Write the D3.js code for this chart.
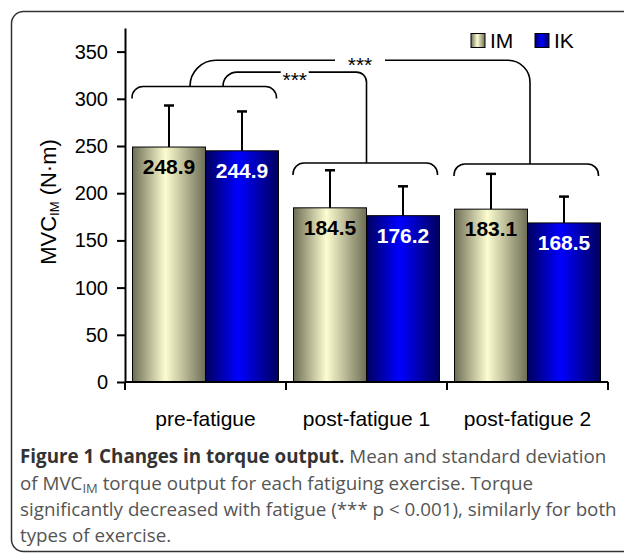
<!DOCTYPE html>
<html>
<head>
<meta charset="utf-8">
<script src="https://cdn.jsdelivr.net/npm/d3@7"></script>
<style>
  html, body { margin: 0; padding: 0; background: #fff; }
  svg { display: block; }
</style>
</head>
<body>
<svg id="chart" width="624" height="553"></svg>
<script>
// ---------- data ----------
const categories = ["pre-fatigue", "post-fatigue 1", "post-fatigue 2"];
const series = ["IM", "IK"];
const meanIM = [248.9, 184.5, 183.1];
const meanIK = [244.9, 176.2, 168.5];
const sdIM = [44.0, 39.8, 37.4];
const sdIK = [41.7, 31.1, 27.9];
const yTicks = [0, 50, 100, 150, 200, 250, 300, 350];
// significance annotations (levels in N·m units)
const groupBracketLevels = [313, 232, 231];
const comparisons = [
  { from: "pre-fatigue", to: "post-fatigue 1", level: 328.3, label: "***" },
  { from: "pre-fatigue", to: "post-fatigue 2", level: 340.8, label: "***" }
];

(function () {
// ---------- layout ----------
const svg = d3.select("#chart");
const mLeft = 125, mRight = 608, mBottom = 382, mTop = 28;

// frame
svg.append("rect")
  .attr("x", 11.5).attr("y", 11.5).attr("width", 700).attr("height", 540)
  .attr("rx", 12).attr("ry", 12)
  .attr("fill", "none").attr("stroke", "#333").attr("stroke-width", 1.5);

// gradients
const defs = svg.append("defs");
function grad(id, edge, mid) {
  const g = defs.append("linearGradient").attr("id", id)
    .attr("x1", "0%").attr("x2", "100%").attr("y1", "0%").attr("y2", "0%");
  g.append("stop").attr("offset", "0%").attr("stop-color", edge);
  g.append("stop").attr("offset", "45%").attr("stop-color", mid);
  g.append("stop").attr("offset", "100%").attr("stop-color", edge);
}
grad("gIM", "#6e6e56", "#fdfdd0");
grad("gIK", "#00005e", "#0000ff");
const fills = { IM: "url(#gIM)", IK: "url(#gIK)" };
const labelColor = { IM: "#000", IK: "#fff" };

const x = d3.scaleBand().domain(categories).range([mLeft, mRight]).paddingInner(0).paddingOuter(0);
const xs = d3.scaleBand().domain(series).range([0, x.bandwidth()]).paddingInner(0).paddingOuter(0.103);
const y = d3.scaleLinear().domain([0, 375]).range([mBottom, mTop]);

const rows = [];
categories.forEach((c, i) => {
  rows.push({ cat: c, s: "IM", v: meanIM[i], sd: sdIM[i] });
  rows.push({ cat: c, s: "IK", v: meanIK[i], sd: sdIK[i] });
});

const font = "Liberation Sans, Arial, Helvetica, sans-serif";

// bars
const g = svg.append("g");
g.selectAll("rect.bar").data(rows).join("rect")
  .attr("class", "bar")
  .attr("x", d => x(d.cat) + xs(d.s))
  .attr("y", d => y(d.v))
  .attr("width", xs.bandwidth())
  .attr("height", d => y(0) - y(d.v))
  .attr("fill", d => fills[d.s])
  .attr("stroke", "#000").attr("stroke-width", 1);

// error bars
const eb = g.selectAll("g.eb").data(rows).join("g").attr("class", "eb");
eb.append("line")
  .attr("x1", d => x(d.cat) + xs(d.s) + xs.bandwidth() / 2)
  .attr("x2", d => x(d.cat) + xs(d.s) + xs.bandwidth() / 2)
  .attr("y1", d => y(d.v)).attr("y2", d => y(d.v + d.sd))
  .attr("stroke", "#000").attr("stroke-width", 2);
eb.append("line")
  .attr("x1", d => x(d.cat) + xs(d.s) + xs.bandwidth() / 2 - 5)
  .attr("x2", d => x(d.cat) + xs(d.s) + xs.bandwidth() / 2 + 5)
  .attr("y1", d => y(d.v + d.sd)).attr("y2", d => y(d.v + d.sd))
  .attr("stroke", "#000").attr("stroke-width", 2.5);

// value labels
g.selectAll("text.val").data(rows).join("text")
  .attr("class", "val")
  .attr("x", d => x(d.cat) + xs(d.s) + xs.bandwidth() / 2)
  .attr("y", d => y(d.v) + 27)
  .attr("text-anchor", "middle")
  .attr("font-family", font).attr("font-weight", "bold").attr("font-size", 21)
  .attr("fill", d => labelColor[d.s])
  .text(d => d.v.toFixed(1));

// y axis
const yAxis = d3.axisLeft(y).tickValues(yTicks).tickSize(8).tickSizeOuter(0).tickPadding(9);
const ya = svg.append("g").attr("transform", `translate(${mLeft},0)`).call(yAxis);
ya.select(".domain").attr("stroke", "#000").attr("stroke-width", 2);
ya.selectAll(".tick line").attr("stroke", "#000").attr("stroke-width", 2);
ya.selectAll(".tick text").attr("font-family", font).attr("font-size", 20).attr("fill", "#000");

// x axis
const xa = svg.append("g");
xa.append("line").attr("x1", mLeft).attr("x2", mRight).attr("y1", y(0)).attr("y2", y(0))
  .attr("stroke", "#000").attr("stroke-width", 2);
const bounds = categories.map(c => x(c)).concat([x.range()[1]]);
xa.selectAll("line.xt").data(bounds).join("line").attr("class", "xt")
  .attr("x1", d => d).attr("x2", d => d).attr("y1", y(0)).attr("y2", y(0) + 8)
  .attr("stroke", "#000").attr("stroke-width", 2);
xa.selectAll("text.xl").data(categories).join("text").attr("class", "xl")
  .attr("x", d => x(d) + x.bandwidth() / 2).attr("y", 426)
  .attr("text-anchor", "middle")
  .attr("font-family", font).attr("font-size", 21).attr("fill", "#000")
  .text(d => d);

// y axis title
const yt = svg.append("text")
  .attr("transform", "translate(56,202) rotate(-90)")
  .attr("text-anchor", "middle")
  .attr("font-family", font).attr("font-size", 22).attr("fill", "#000");
yt.append("tspan").text("MVC");
yt.append("tspan").attr("font-size", 13).attr("dy", 3).text("IM");
yt.append("tspan").attr("dy", -3).text(" (N\u00B7m)");

// legend
const lg = svg.append("g");
const legX = [471, 535];
series.forEach((s, i) => {
  lg.append("rect").attr("x", legX[i]).attr("y", 33.5).attr("width", 14).attr("height", 14)
    .attr("fill", fills[s]).attr("stroke", "#000").attr("stroke-width", 1);
  lg.append("text").attr("x", legX[i] + 19).attr("y", 48)
    .attr("font-family", font).attr("font-size", 21).attr("fill", "#000").text(s);
});

// group brackets
const ann = svg.append("g").attr("fill", "none").attr("stroke", "#000").attr("stroke-width", 1.6);
const drop = 12, rb = 11;
categories.forEach((c, i) => {
  const x1 = x(c) + xs(series[0]) - 0.5;
  const x2 = x(c) + xs(series[1]) + xs.bandwidth() - 2;
  const yy = y(groupBracketLevels[i]);
  const p = d3.path();
  p.moveTo(x1, yy + drop);
  p.arcTo(x1, yy, x1 + rb, yy, rb);
  p.lineTo(x2 - rb, yy);
  p.arcTo(x2, yy, x2, yy + drop, rb);
  p.lineTo(x2, yy + drop);
  ann.append("path").attr("d", p.toString());
});

// comparison connectors
const compStyle = [
  { fromOff: 17.5, toOff: 0, r1: 14, r2: 10, gap: 28, dy: 3 },
  { fromOff: -15.5, toOff: 2.5, r1: 26, r2: 22, gap: 50, dy: 0 }
];
comparisons.forEach((cmp, k) => {
  const st = compStyle[k];
  const i1 = categories.indexOf(cmp.from), i2 = categories.indexOf(cmp.to);
  const xa1 = x(cmp.from) + x.bandwidth() / 2 + st.fromOff;
  const xa2 = x(cmp.to) + x.bandwidth() / 2 + st.toOff;
  const y1 = y(groupBracketLevels[i1]);
  const y2 = y(groupBracketLevels[i2]);
  const yl = y(cmp.level);
  const p = d3.path();
  p.moveTo(xa1, y1);
  p.arcTo(xa1, yl, xa1 + st.r1, yl, st.r1);
  p.lineTo(xa2 - st.r2, yl);
  p.arcTo(xa2, yl, xa2, yl + st.r2, st.r2);
  p.lineTo(xa2, y2);
  ann.append("path").attr("d", p.toString());
  const cx = (xa1 + xa2) / 2;
  svg.append("rect").attr("x", cx - st.gap / 2).attr("y", yl - 4).attr("width", st.gap).attr("height", 8)
    .attr("fill", "#fff");
  svg.append("text").attr("x", cx).attr("y", yl + 12 + st.dy)
    .attr("text-anchor", "middle")
    .attr("font-family", font).attr("font-size", 21).attr("fill", "#000")
    .text(cmp.label);
});

// caption
const cap = svg.append("g").attr("font-family", "Open Sans, Noto Sans, sans-serif").attr("font-size", 18.8);
const capX = 20, capY = [463, 489.5, 516, 542];
const l1 = cap.append("text").attr("x", capX).attr("y", capY[0]).attr("fill", "#555");
l1.append("tspan").attr("font-weight", "bold").attr("fill", "#333").text("Figure 1 Changes in torque output.");
l1.append("tspan").text(" Mean and standard deviation");
const l2 = cap.append("text").attr("x", capX).attr("y", capY[1]).attr("fill", "#555");
l2.append("tspan").text("of MVC");
l2.append("tspan").attr("font-size", 13).attr("dy", 3).text("IM");
l2.append("tspan").attr("dy", -3).text(" torque output for each fatiguing exercise. Torque");
cap.append("text").attr("x", capX).attr("y", capY[2]).attr("fill", "#555")
  .text("significantly decreased with fatigue (*** p < 0.001), similarly for both");
cap.append("text").attr("x", capX).attr("y", capY[3]).attr("fill", "#555")
  .text("types of exercise.");
})();
</script>
</body>
</html>
